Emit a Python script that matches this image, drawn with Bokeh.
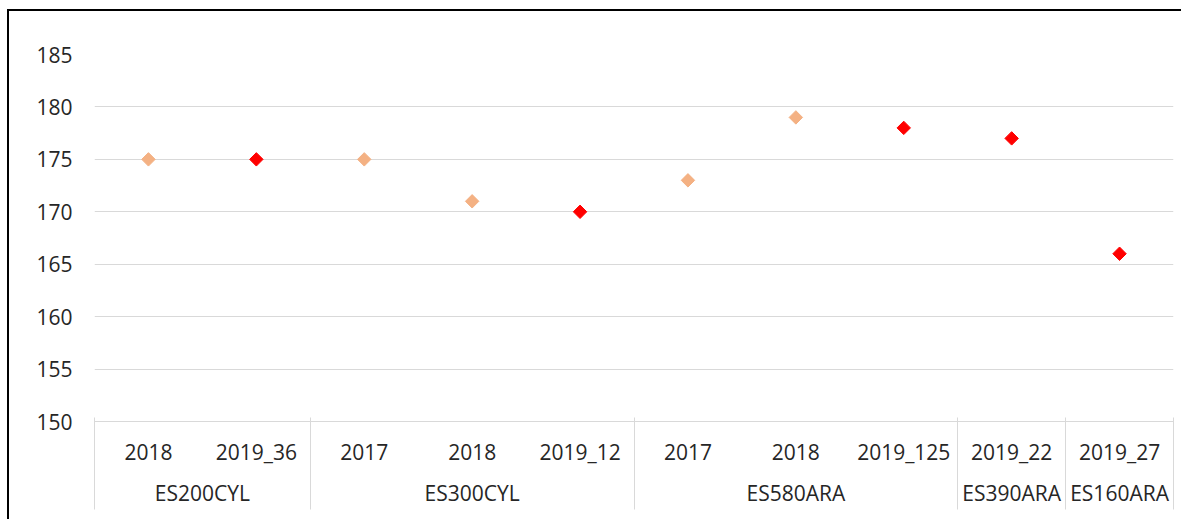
import numpy as np
from bokeh.plotting import figure
from bokeh.models import (FactorRange, Range1d, ColumnDataSource, FixedTicker,
                          LinearAxis, CustomJSTickFormatter)
from bokeh.embed import file_html
from bokeh.resources import INLINE

# ---- data ----
sites = ["ES200CYL", "ES200CYL", "ES300CYL", "ES300CYL", "ES300CYL",
         "ES580ARA", "ES580ARA", "ES580ARA", "ES390ARA", "ES160ARA"]
years = ["2018", "2019_36", "2017", "2018", "2019_12",
         "2017", "2018", "2019_125", "2019_22", "2019_27"]
values = [175, 175, 175, 171, 170, 173, 179, 178, 177, 166]
y_ticks = [150, 155, 160, 165, 170, 175, 180, 185]

LIGHT = "#F4B183"
RED = "#FF0000"
GRID = "#D9D9D9"
TEXT = "#262626"
FONT = "Open Sans"
FS = "21px"

factors = list(zip(sites, years))
colors = [RED if y.startswith("2019") else LIGHT for y in years]

# group boundaries (in synthetic factor coordinates)
bounds = [0]
for i in range(1, len(sites)):
    if sites[i] != sites[i - 1]:
        bounds.append(i)
bounds.append(len(sites))

src = ColumnDataSource(dict(x=factors, v=values, c=colors))

p = figure(
    x_range=FactorRange(factors=factors, factor_padding=0, group_padding=0,
                        range_padding=0),
    y_range=Range1d(150, 185),
    width=1174, height=510,
    output_backend="svg", toolbar_location=None,
    min_border_left=85, min_border_right=10, min_border_top=43,
    min_border_bottom=100,
)
p.styles = {"box-shadow": "-2px -2px 0px 0px #000",
            "transform": "translate(9px, 11px)"}
p.outline_line_color = None
p.background_fill_color = "white"
p.border_fill_color = "white"

p.scatter(x="x", y="v", source=src, marker="square", angle=np.pi / 4,
          size=9.5, fill_color="c", line_color="c")

# y axis
p.yaxis.ticker = FixedTicker(ticks=y_ticks)
p.yaxis.axis_line_color = None
p.yaxis.major_tick_line_color = None
p.yaxis.minor_tick_line_color = None
p.yaxis.major_label_text_font = FONT
p.yaxis.major_label_text_font_size = FS
p.yaxis.major_label_text_color = TEXT
p.yaxis.major_label_standoff = 16

p.ygrid.ticker = FixedTicker(ticks=y_ticks)
p.ygrid.grid_line_color = GRID
p.xgrid.grid_line_color = None

# categorical x axis
xa = p.xaxis[0]
xa.axis_line_color = GRID
xa.major_tick_line_color = None
xa.major_label_text_font = FONT
xa.major_label_text_font_size = FS
xa.major_label_text_color = TEXT
xa.major_label_standoff = 10
xa.group_text_font = FONT
xa.group_text_font_size = FS
xa.group_text_color = TEXT
xa.group_text_font_style = "normal"
xa.separator_line_color = None

# separator lines of the category table (same factor range, synthetic coords)
sep = LinearAxis(ticker=FixedTicker(ticks=bounds),
                 formatter=CustomJSTickFormatter(code="return ''"),
                 axis_line_color=None, major_tick_in=92, major_tick_out=0,
                 major_tick_line_color=GRID, minor_tick_line_color=None,
                 major_label_standoff=0, major_label_text_font_size="1px")
p.add_layout(sep, "below")

open("out.html", "w").write(file_html(p, INLINE))
